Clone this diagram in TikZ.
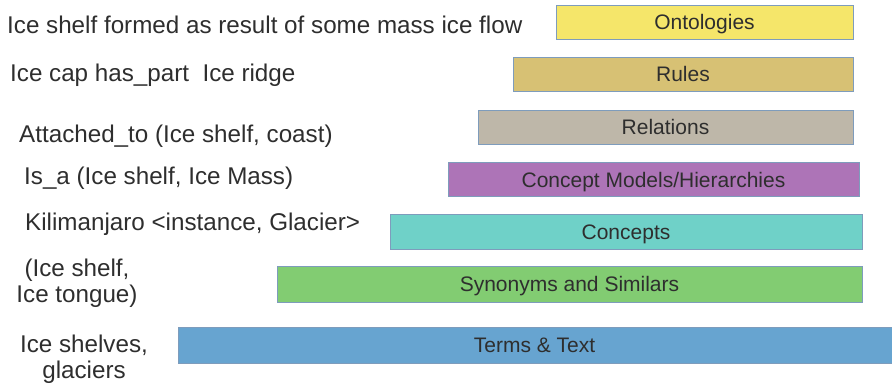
\documentclass[tikz,border=0pt]{standalone}
\usepackage{fontspec}
\setmainfont{Liberation Sans}
\definecolor{txt}{HTML}{2E2E2E}
\definecolor{edge}{HTML}{7E9CBC}
\definecolor{cOnt}{HTML}{F5E66A}
\definecolor{cRul}{HTML}{D7C174}
\definecolor{cRel}{HTML}{BEB7A9}
\definecolor{cCM}{HTML}{AD74B7}
\definecolor{cCon}{HTML}{6FD1C8}
\definecolor{cSyn}{HTML}{82CC72}
\definecolor{cTer}{HTML}{67A4D0}
\tikzset{
  layer/.style={draw=edge, line width=0.9pt, text=txt, inner sep=0pt,
    text height=15pt, text depth=0pt,
    font=\fontsize{21}{24}\selectfont},
  lefttext/.style={text=txt, inner sep=0pt, anchor=base west,
    font=\fontsize{24.2}{26}\selectfont},
  leftmulti/.style={text=txt, inner sep=0pt, align=center,
    font=\fontsize{24.2}{25.5}\selectfont}
}
\begin{document}
\begin{tikzpicture}[x=1pt,y=-1pt]
\useasboundingbox (0,0) rectangle (892,385);
% layers
\node[layer, fill=cOnt, minimum width=297pt, minimum height=34pt] (ont) at (704.5,22) {Ontologies};
\node[layer, fill=cRul, minimum width=340pt, minimum height=34pt] (rul) at (683,74) {Rules};
\node[layer, fill=cRel, minimum width=375pt, minimum height=34pt] (rel) at (665.5,127) {Relations};
\node[layer, fill=cCM, minimum width=411pt, minimum height=34pt] (cm) at (653.5,179.5) {Concept Models/Hierarchies};
\node[layer, fill=cCon, minimum width=472pt, minimum height=35pt] (con) at (626,231.5) {Concepts};
\node[layer, fill=cSyn, minimum width=585pt, minimum height=36pt] (syn) at (569.5,284) {Synonyms and Similars};
\node[layer, fill=cTer, minimum width=717pt, minimum height=36pt] (ter) at (536.5,345) {\phantom{x}};
\node[text=txt, inner sep=0pt, text height=15pt, text depth=0pt, font=\fontsize{21}{24}\selectfont] (terlbl) at (534.5,345) {Terms \& Text};
% left texts
\node[lefttext] (t1) at (7,34) {Ice shelf formed as result of some mass ice flow};
\node[lefttext] (t2) at (10,82) {Ice cap has\_part\ \ Ice ridge};
\node[lefttext] (t3) at (19,143) {Attached\_to (Ice shelf, coast)};
\node[lefttext] (t4) at (24,185) {Is\_a (Ice shelf, Ice Mass)};
\node[lefttext] (t5) at (25,230) {Kilimanjaro <instance, Glacier>};
\node[leftmulti] (t6) at (77,283) {(Ice shelf,\\Ice tongue)};
\node[leftmulti] (t7) at (84,359) {Ice shelves,\\glaciers};
\end{tikzpicture}
\end{document}
